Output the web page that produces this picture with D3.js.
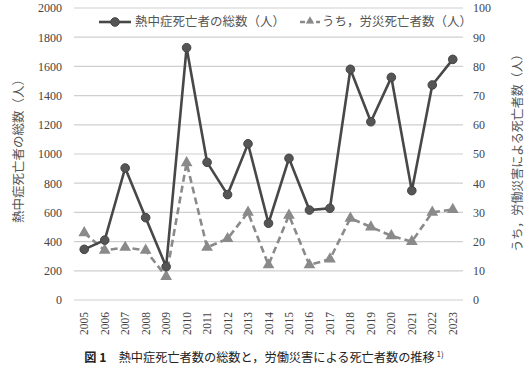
<!DOCTYPE html>
<html>
<head>
<meta charset="utf-8">
<script src="https://cdn.jsdelivr.net/npm/d3@7"></script>
<style>
  html, body { margin: 0; padding: 0; background: #fff; }
  svg { display: block; }
</style>
</head>
<body>
<svg id="chart" width="529" height="375"></svg>
<script>
// データ
const years = ["2005","2006","2007","2008","2009","2010","2011","2012","2013","2014",
               "2015","2016","2017","2018","2019","2020","2021","2022","2023"];
const totalDeaths = [347, 410, 904, 564, 228, 1728, 943, 722, 1070, 526,
                     970, 616, 628, 1580, 1221, 1525, 749, 1473, 1648];
const workDeaths = [23, 17, 18, 17, 8, 47, 18, 21, 30, 12,
                    29, 12, 14, 28, 25, 22, 20, 30, 31];
const leftTicks = [0, 200, 400, 600, 800, 1000, 1200, 1400, 1600, 1800, 2000];
const rightTicks = [0, 10, 20, 30, 40, 50, 60, 70, 80, 90, 100];

const legendLabels = ["熱中症死亡者の総数（人）", "うち，労災死亡者数（人）"];
const leftTitle = "熱中症死亡者の総数（人）";
const rightTitle = "うち，労働災害による死亡者数（人）";

const jpFont = "'Noto Sans CJK JP', sans-serif";
const numFont = "'Liberation Serif', 'DejaVu Serif', serif";

const svg = d3.select("#chart");
const plot = { left: 74, right: 463, top: 8, bottom: 300 };

const x = d3.scaleBand().domain(years).range([plot.left, plot.right]).padding(0);
const yL = d3.scaleLinear().domain([0, 2000]).range([plot.bottom, plot.top]);
const yR = d3.scaleLinear().domain([0, 100]).range([plot.bottom, plot.top]);
const cx = d => x(d) + x.bandwidth() / 2;

// グリッド線
svg.append("g").selectAll("line").data(leftTicks).enter().append("line")
    .attr("x1", plot.left).attr("x2", plot.right)
    .attr("y1", d => yL(d)).attr("y2", d => yL(d))
    .attr("stroke", "#cfcfcf").attr("stroke-width", 1.2);

// 左軸
const leftAxis = svg.append("g")
    .attr("transform", `translate(${plot.left - 12},0)`)
    .call(d3.axisLeft(yL).tickValues(leftTicks).tickFormat(d3.format("d")).tickSize(0).tickPadding(0));
leftAxis.select(".domain").remove();
leftAxis.selectAll("text")
    .attr("font-family", numFont).attr("font-size", 12).attr("fill", "#444");

// 右軸
const rightAxis = svg.append("g")
    .attr("transform", `translate(${plot.right + 10},0)`)
    .call(d3.axisRight(yR).tickValues(rightTicks).tickFormat(d3.format("d")).tickSize(0).tickPadding(0));
rightAxis.select(".domain").remove();
rightAxis.selectAll("text")
    .attr("font-family", numFont).attr("font-size", 12).attr("fill", "#444");

// x軸
const xAxis = svg.append("g")
    .attr("transform", `translate(0,${plot.bottom + 12})`)
    .call(d3.axisBottom(x).tickSize(0).tickPadding(0));
xAxis.select(".domain").remove();
xAxis.selectAll("text")
    .attr("font-family", numFont).attr("font-size", 11.5).attr("fill", "#444")
    .attr("text-anchor", "end")
    .attr("dy", "0.35em")
    .attr("transform", "rotate(-90)");

// 軸タイトル
svg.append("text")
    .attr("transform", "translate(19,148) rotate(-90)")
    .attr("text-anchor", "middle").attr("dy", "0.35em")
    .attr("font-family", jpFont).attr("font-size", 12.5).attr("fill", "#555")
    .text(leftTitle);
svg.append("text")
    .attr("transform", "translate(518,150) rotate(-90)")
    .attr("text-anchor", "middle").attr("dy", "0.35em")
    .attr("font-family", jpFont).attr("font-size", 12).attr("fill", "#555")
    .text(rightTitle);

// 労災死亡者数（破線）
const lineR = d3.line().x((d, i) => cx(years[i])).y(d => yR(d));
svg.append("path").datum(workDeaths)
    .attr("d", lineR)
    .attr("fill", "none").attr("stroke", "#8a8a8a")
    .attr("stroke-width", 2.6).attr("stroke-dasharray", "7,4");
const tri = d3.symbol().type(d3.symbolTriangle).size(60);
svg.append("g").selectAll("path").data(workDeaths).enter().append("path")
    .attr("d", tri)
    .attr("transform", (d, i) => `translate(${cx(years[i])},${yR(d)})`)
    .attr("fill", "#8a8a8a");

// 熱中症死亡者の総数（実線）
const lineL = d3.line().x((d, i) => cx(years[i])).y(d => yL(d));
svg.append("path").datum(totalDeaths)
    .attr("d", lineL)
    .attr("fill", "none").attr("stroke", "#484848").attr("stroke-width", 2.6);
svg.append("g").selectAll("circle").data(totalDeaths).enter().append("circle")
    .attr("cx", (d, i) => cx(years[i])).attr("cy", d => yL(d))
    .attr("r", 4.3)
    .attr("fill", "#555").attr("stroke", "#444").attr("stroke-width", 1);

// 凡例
const lg = svg.append("g");
lg.append("rect").attr("x", 94).attr("y", 12).attr("width", 366).attr("height", 20).attr("fill", "#fff");
lg.append("line").attr("x1", 99).attr("x2", 131).attr("y1", 22).attr("y2", 22)
    .attr("stroke", "#484848").attr("stroke-width", 2.6);
lg.append("circle").attr("cx", 115).attr("cy", 22).attr("r", 4.3)
    .attr("fill", "#555").attr("stroke", "#444");
lg.append("text").attr("x", 135).attr("y", 22).attr("dy", "0.35em")
    .attr("font-family", jpFont).attr("font-size", 12.5).attr("fill", "#555")
    .text(legendLabels[0]);
lg.append("line").attr("x1", 300).attr("x2", 320).attr("y1", 22).attr("y2", 22)
    .attr("stroke", "#8a8a8a").attr("stroke-width", 2.6).attr("stroke-dasharray", "5,3");
lg.append("path").attr("d", d3.symbol().type(d3.symbolTriangle).size(30))
    .attr("transform", "translate(310,21)").attr("fill", "#8a8a8a");
lg.append("text").attr("x", 322).attr("y", 22).attr("dy", "0.35em")
    .attr("font-family", jpFont).attr("font-size", 12.5).attr("fill", "#555")
    .text(legendLabels[1]);

// キャプション
const cap = svg.append("text")
    .attr("x", 264).attr("y", 362).attr("text-anchor", "middle")
    .attr("font-family", jpFont).attr("font-size", 12.2).attr("fill", "#222");
cap.append("tspan").attr("font-weight", "bold").text("図 1");
cap.append("tspan").text("　熱中症死亡者数の総数と，労働災害による死亡者数の推移");
cap.append("tspan").attr("font-size", 8).attr("dy", -5).text(" 1)");
</script>
</body>
</html>
